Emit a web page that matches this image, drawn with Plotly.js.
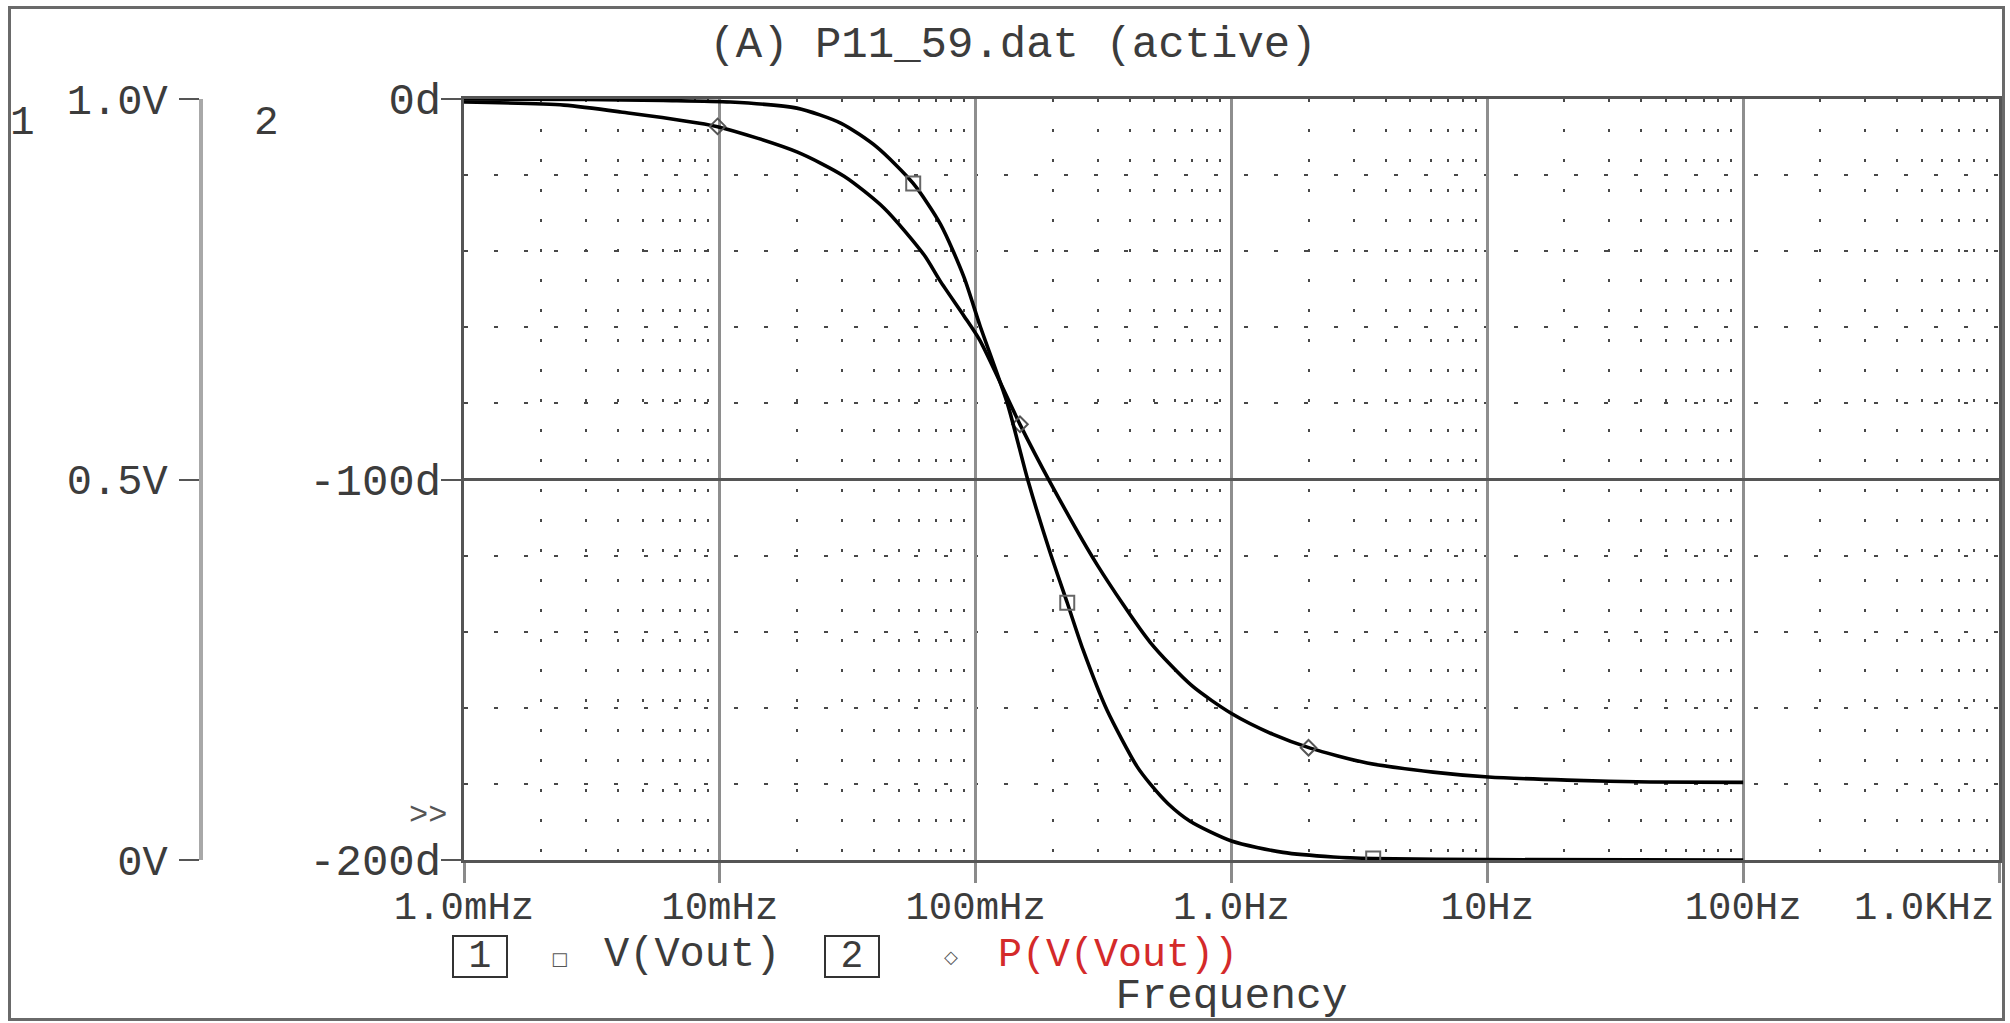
<!DOCTYPE html>
<html>
<head>
<meta charset="utf-8">
<script src="https://cdn.plot.ly/plotly-3.0.1.min.js"></script>
<style>
  html, body { margin: 0; padding: 0; background: #ffffff; }
  #wrap { position: relative; width: 2010px; height: 1023px; overflow: hidden; }
  #chart { position: absolute; left: 0; top: 0; width: 2010px; height: 1023px; }
  #frame { position: absolute; left: 8px; top: 6px; width: 1997px; height: 1015px;
           border: 3px solid #6a6a6a; box-sizing: border-box; pointer-events: none; }
</style>
</head>
<body>
<div id="wrap">
  <div id="chart"></div>
  <div id="frame"></div>
</div>
<script>
// ---------------- DATA ----------------
const chartTitle = "(A) P11_59.dat (active)";
const xAxisTitle = "Frequency";
const seriesNames = ["V(Vout)", "P(V(Vout))"];

// Frequency tick positions (Hz) and their labels
const decadeVals   = [0.001, 0.01, 0.1, 1, 10, 100, 1000];
const decadeLabels = ["1.0mHz", "10mHz", "100mHz", "1.0Hz", "10Hz", "100Hz", "1.0KHz"];

// Axis 1 (magnitude, volts)
const voltTickVals   = [0, 0.5, 1.0];
const voltTickLabels = ["0V", "0.5V", "1.0V"];

// Axis 2 (phase, degrees)
const phaseTickVals   = [0, -100, -200];
const phaseTickLabels = ["0d", "-100d", "-200d"];

// Series 1: V(Vout) magnitude
const magFreq = [0.001, 0.003, 0.006, 0.011, 0.020, 0.0298, 0.041, 0.057, 0.073,
                 0.090, 0.104, 0.133, 0.160, 0.195, 0.228, 0.263, 0.326, 0.427, 0.481,
                 0.565, 0.689, 1.0, 1.59, 2.5, 3.58, 10, 100];
const magVolt = [1.000, 0.9995, 0.998, 0.996, 0.988, 0.968, 0.937, 0.889, 0.835,
                 0.766, 0.702, 0.600, 0.499, 0.405, 0.338, 0.276, 0.197, 0.123, 0.100,
                 0.074, 0.051, 0.025, 0.010, 0.004, 0.002, 0.0005, 0.0];

// Series 2: P(V(Vout)) phase
const phaseFreq = [0.001, 0.00246, 0.0041, 0.0097, 0.020, 0.0306, 0.0439, 0.0629, 0.0726, 0.090,
                   0.104, 0.149, 0.195, 0.299, 0.481, 0.700, 1.0, 1.455, 2.03,
                   3.39, 6.14, 10.1, 20.5, 43.3, 100];
const phaseDeg  = [-0.8, -1.6, -3.4, -7.2, -13.9, -20.3, -28.7, -41.0, -47.8, -57.0,
                   -63.5, -85.5, -100.6, -122.5, -142.8, -154.2, -161.5, -167.0, -170.6,
                   -174.5, -176.9, -178.2, -179.0, -179.5, -179.6];

// Marker symbols drawn on each curve
const magMarkFreq   = [0.057, 0.228, 3.58];
const magMarkVolt   = [0.889, 0.338, 0.002];
const phaseMarkFreq = [0.0098, 0.149, 2.0];
const phaseMarkDeg  = [-7.2, -85.5, -170.5];

// ---------------- STYLE / LAYOUT ----------------
const FONT = "Liberation Mono, DejaVu Sans Mono, monospace";
const TXT = "#3c3c3c";

const W = 2010, H = 1023;
const mL = 10, mR = 11, mT = 99, mB = 163;
const plotW = W - mL - mR;
const plotH = H - mT - mB;
const xDomStart = (464 - mL) / plotW;
const voltAxisPos = (201 - mL) / plotW;
const px = (v) => (v - mL) / plotW;            // page x -> paper x
const py = (v) => (H - mB - v) / plotH;        // page y -> paper y

// minor log positions 2..9 in every decade of the axis
const minorVals = [];
for (let k = -3; k <= 2; k++) for (let m = 2; m <= 9; m++) minorVals.push(m * Math.pow(10, k));

// the last decade label is drawn right-aligned at the frame edge (as in the reference)
const lastIdx = decadeLabels.length - 1;
const xTickText = decadeLabels.map((t, i) => (i === lastIdx ? "" : t));

const traces = [
  { x: phaseFreq, y: phaseDeg, name: seriesNames[1], type: "scatter", mode: "lines",
    line: { color: "#000000", width: 3.6, shape: "spline", smoothing: 0.7 },
    xaxis: "x", yaxis: "y", showlegend: false, hoverinfo: "skip" },
  { x: phaseMarkFreq, y: phaseMarkDeg, name: seriesNames[1], type: "scatter", mode: "markers",
    marker: { symbol: "diamond-open", size: 12, color: "#555555", line: { width: 2, color: "#555555" } },
    xaxis: "x", yaxis: "y", showlegend: false, hoverinfo: "skip" },
  { x: magFreq, y: magVolt, name: seriesNames[0], type: "scatter", mode: "lines",
    line: { color: "#000000", width: 3.6, shape: "spline", smoothing: 0.7 },
    xaxis: "x", yaxis: "y2", showlegend: false, hoverinfo: "skip" },
  { x: magMarkFreq, y: magMarkVolt, name: seriesNames[0], type: "scatter", mode: "markers",
    marker: { symbol: "square-open", size: 14, color: "#666666", line: { width: 2, color: "#666666" } },
    xaxis: "x", yaxis: "y2", showlegend: false, hoverinfo: "skip" }
];

const layout = {
  width: W, height: H,
  margin: { l: mL, r: mR, t: mT, b: mB, pad: 0 },
  paper_bgcolor: "#ffffff", plot_bgcolor: "#ffffff",
  showlegend: false,
  font: { family: FONT, size: 41, color: TXT },
  title: { text: chartTitle, xref: "container", x: 1013 / W, xanchor: "center",
           yref: "container", y: 1 - 42 / H, yanchor: "middle",
           font: { family: FONT, size: 44, color: TXT } },
  xaxis: {
    type: "log", range: [-3, 3], domain: [xDomStart, 1],
    tickmode: "array", tickvals: decadeVals, ticktext: xTickText,
    ticks: "outside", ticklen: 20, tickwidth: 3, tickcolor: "#8a8a8a",
    ticklabelstandoff: -11,
    showgrid: true, gridcolor: "#8e8e8e", gridwidth: 3,
    showline: true, linecolor: "#555555", linewidth: 3, mirror: true,
    zeroline: false,
    tickfont: { family: FONT, size: 39, color: TXT },
    minor: { tickmode: "array", tickvals: minorVals, showgrid: true,
             gridcolor: "#484848", gridwidth: 2, griddash: "3px,27px", ticks: "" },
    title: { text: xAxisTitle, standoff: 49, font: { family: FONT, size: 43, color: TXT } }
  },
  yaxis: {
    range: [-200, 0], anchor: "x",
    tickmode: "array", tickvals: phaseTickVals, ticktext: phaseTickLabels,
    ticks: "outside", ticklen: 20, tickwidth: 2, tickcolor: "#555555",
    ticklabelstandoff: -9,
    showgrid: true, gridcolor: "#555555", gridwidth: 3,
    showline: true, linecolor: "#555555", linewidth: 3, mirror: true,
    zeroline: false,
    tickfont: { family: FONT, size: 44, color: TXT },
    minor: { dtick: 20, tick0: 0, showgrid: true, gridcolor: "#484848", gridwidth: 2,
             griddash: "4px,26px", ticks: "" }
  },
  yaxis2: {
    range: [0, 1], overlaying: "y", anchor: "free", position: voltAxisPos, side: "left",
    tickmode: "array", tickvals: voltTickVals, ticktext: voltTickLabels,
    ticks: "outside", ticklen: 20, tickwidth: 2, tickcolor: "#555555",
    ticklabelstandoff: 3,
    showgrid: false, zeroline: false,
    showline: true, linecolor: "#a8a8a8", linewidth: 4,
    tickfont: { family: FONT, size: 42, color: TXT }
  },
  shapes: [
    { type: "line", xref: "x", yref: "paper", x0: decadeVals[5], x1: decadeVals[5], y0: 0, y1: 1,
      line: { color: "#4a4a4a", width: 2 }, layer: "below" }
  ],
  annotations: [
    { text: decadeLabels[lastIdx], xref: "x", yref: "paper", x: Math.log10(decadeVals[lastIdx]),
      y: py(909), xanchor: "right", yanchor: "middle", xshift: -3, showarrow: false,
      font: { family: FONT, size: 39, color: TXT } },
    { text: "1", xref: "paper", yref: "paper", x: px(22), y: py(123),
      xanchor: "center", yanchor: "middle", showarrow: false, font: { family: FONT, size: 41, color: TXT } },
    { text: "2", xref: "paper", yref: "paper", x: px(266), y: py(123),
      xanchor: "center", yanchor: "middle", showarrow: false, font: { family: FONT, size: 41, color: TXT } },
    { text: ">>", xref: "paper", yref: "paper", x: px(428), y: py(815),
      xanchor: "center", yanchor: "middle", showarrow: false, font: { family: FONT, size: 32, color: "#555555" } },
    // legend row
    { text: "1", xref: "paper", yref: "paper", x: px(480), y: py(956),
      xanchor: "center", yanchor: "middle", showarrow: false, width: 52, height: 39,
      bordercolor: "#333333", borderwidth: 2, borderpad: 0,
      font: { family: FONT, size: 38, color: TXT } },
    { text: "\u25A1", xref: "paper", yref: "paper", x: px(559), y: py(958),
      xanchor: "center", yanchor: "middle", showarrow: false, font: { family: "DejaVu Sans", size: 18, color: "#555555" } },
    { text: seriesNames[0], xref: "paper", yref: "paper", x: px(692), y: py(955),
      xanchor: "center", yanchor: "middle", showarrow: false, font: { family: FONT, size: 42, color: TXT } },
    { text: "2", xref: "paper", yref: "paper", x: px(852), y: py(956),
      xanchor: "center", yanchor: "middle", showarrow: false, width: 52, height: 39,
      bordercolor: "#333333", borderwidth: 2, borderpad: 0,
      font: { family: FONT, size: 38, color: TXT } },
    { text: "\u25C7", xref: "paper", yref: "paper", x: px(951), y: py(957),
      xanchor: "center", yanchor: "middle", showarrow: false, font: { family: "DejaVu Sans", size: 18, color: "#555555" } },
    { text: seriesNames[1], xref: "paper", yref: "paper", x: px(1118), y: py(955),
      xanchor: "center", yanchor: "middle", showarrow: false, font: { family: FONT, size: 40, color: "#d42a2a" } }
  ]
};

Plotly.newPlot("chart", traces, layout, { displayModeBar: false, staticPlot: true });
</script>
</body>
</html>
